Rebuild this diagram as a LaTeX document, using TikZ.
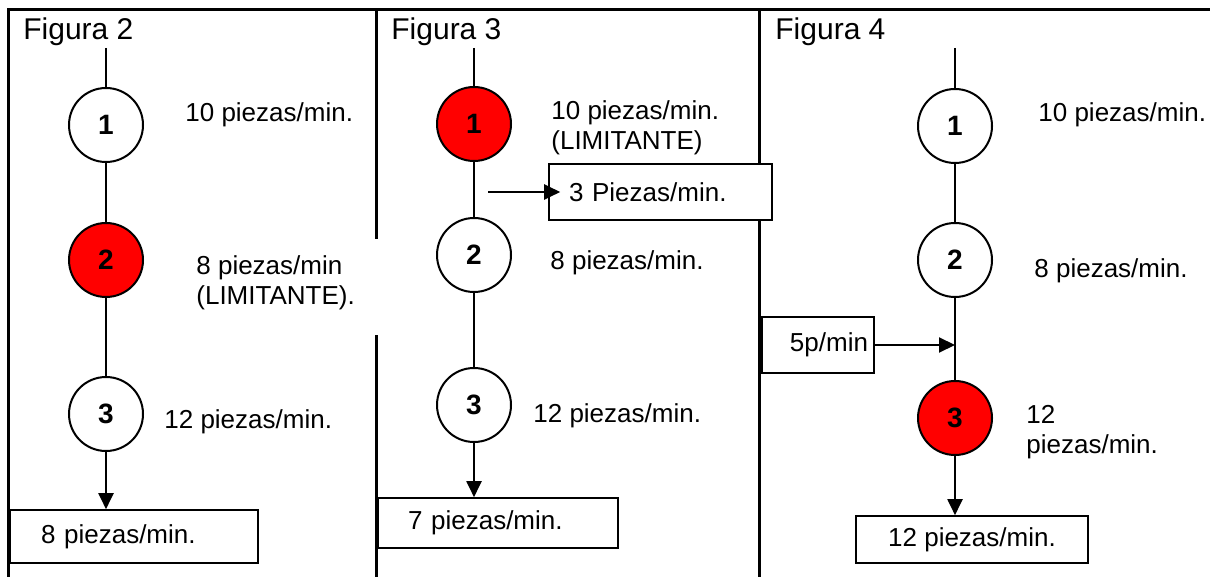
\documentclass[tikz,border=0pt]{standalone}
\usepackage{fontspec}
\setmainfont{Liberation Sans}
\usepackage{tikz}
\usetikzlibrary{arrows.meta}
\tikzset{
    every node/.style={font=\fontsize{13}{15}\selectfont},
    op/.style={draw, circle, line width=1pt, minimum size=37pt, inner sep=0pt, fill=white,
        font=\bfseries\fontsize{14}{16}\selectfont},
    oplim/.style={op, fill=red},
    lbl/.style={anchor=base west, inner sep=0pt, align=left},
    figtitle/.style={lbl, font=\fontsize{15}{17}\selectfont},
    outbox/.style={draw, fill=white, line width=0.8pt, inner ysep=0pt},
    flow/.style={line width=1pt},
    divider/.style={line width=1.5pt}
}

\begin{document}
\begin{tikzpicture}[x=0.5pt, y=-0.5pt, >={Triangle[length=8pt,width=7.5pt]}]
            \useasboundingbox (0,0) rectangle (1210,577);
            % frame and column dividers
            \draw[divider] (8,577) -- (8,10) -- (1210,10);
            \draw[divider] (376,10) -- (376,239);
            \draw[divider] (376,335) -- (376,577);
            \draw[divider] (759,10) -- (759,577);

            % Figura 2
            \node[figtitle] (fig2) at (23,40) {Figura 2};
            \coordinate (in2) at (106,48);
            \node[op] (op21) at (106,125) {1};
            \node[oplim] (op22) at (106,260) {2};
            \node[op] (op23) at (106,414) {3};
            \node[lbl] (lab21) at (185,122) {10 piezas/min.};
            \node[lbl] (lab22) at (196,305) {8 piezas/min\\(LIMITANTE).};
            \node[lbl] (lab23) at (164,428) {12 piezas/min.};
            \node[outbox, text width=93pt, inner xsep=15.5pt, minimum height=26.5pt, align=left] (out2) at (134,536.5) {8 piezas/min.};
            \draw[flow] (in2) -- (op21) -- (op22) -- (op23);
            \draw[flow, ->] (op23) -- (op23 |- out2.north);

            % Figura 3
            \node[figtitle] (fig3) at (391,40) {Figura 3};
            \coordinate (in3) at (474,48);
            \node[oplim] (op31) at (474,124) {1};
            \node[op] (op32) at (474,255) {2};
            \node[op] (op33) at (474,405) {3};
            \node[lbl] (lab31) at (551,150) {10 piezas/min.\\(LIMITANTE)};
            \node[lbl] (lab32) at (550,270) {8 piezas/min.};
            \node[lbl] (lab33) at (533,422) {12 piezas/min.};
            \node[outbox, text width=91.5pt, inner xsep=10pt, minimum height=28pt, align=left] (scrap3) at (660.5,192) {3 Piezas/min.};
            \node[outbox, text width=90pt, inner xsep=15pt, minimum height=25pt, align=left] (out3) at (498,523) {7 piezas/min.};
            \coordinate (tap3) at (488,192);
            \draw[flow] (in3) -- (op31) -- (op32) -- (op33);
            \draw[flow, ->] (tap3) -- ([xshift=6pt]scrap3.west);
            \draw[flow, ->] (op33) -- (op33 |- out3.north);

            % Figura 4
            \node[figtitle] (fig4) at (775,40) {Figura 4};
            \coordinate (in4top) at (955,48);
            \node[op] (op41) at (955,126) {1};
            \node[op] (op42) at (955,260) {2};
            \node[oplim] (op43) at (955,418) {3};
            \coordinate (join4) at (955,345);
            \node[lbl] (lab41) at (1038,122) {10 piezas/min.};
            \node[lbl] (lab42) at (1034,278) {8 piezas/min.};
            \node[lbl] (lab43) at (1026,453) {12\\piezas/min.};
            \node[outbox, text width=50pt, inner xsep=3pt, minimum height=28pt, align=right] (in4) at (818,345) {5p/min};
            \node[outbox, minimum width=116pt, minimum height=23.5pt] (out4) at (972,539.5) {12 piezas/min.};
            \draw[flow] (in4top) -- (op41) -- (op42) -- (op43);
            \draw[flow, ->] (in4) -- (join4);
            \draw[flow, ->] (op43) -- (op43 |- out4.north);
        \end{tikzpicture}
\end{document}
